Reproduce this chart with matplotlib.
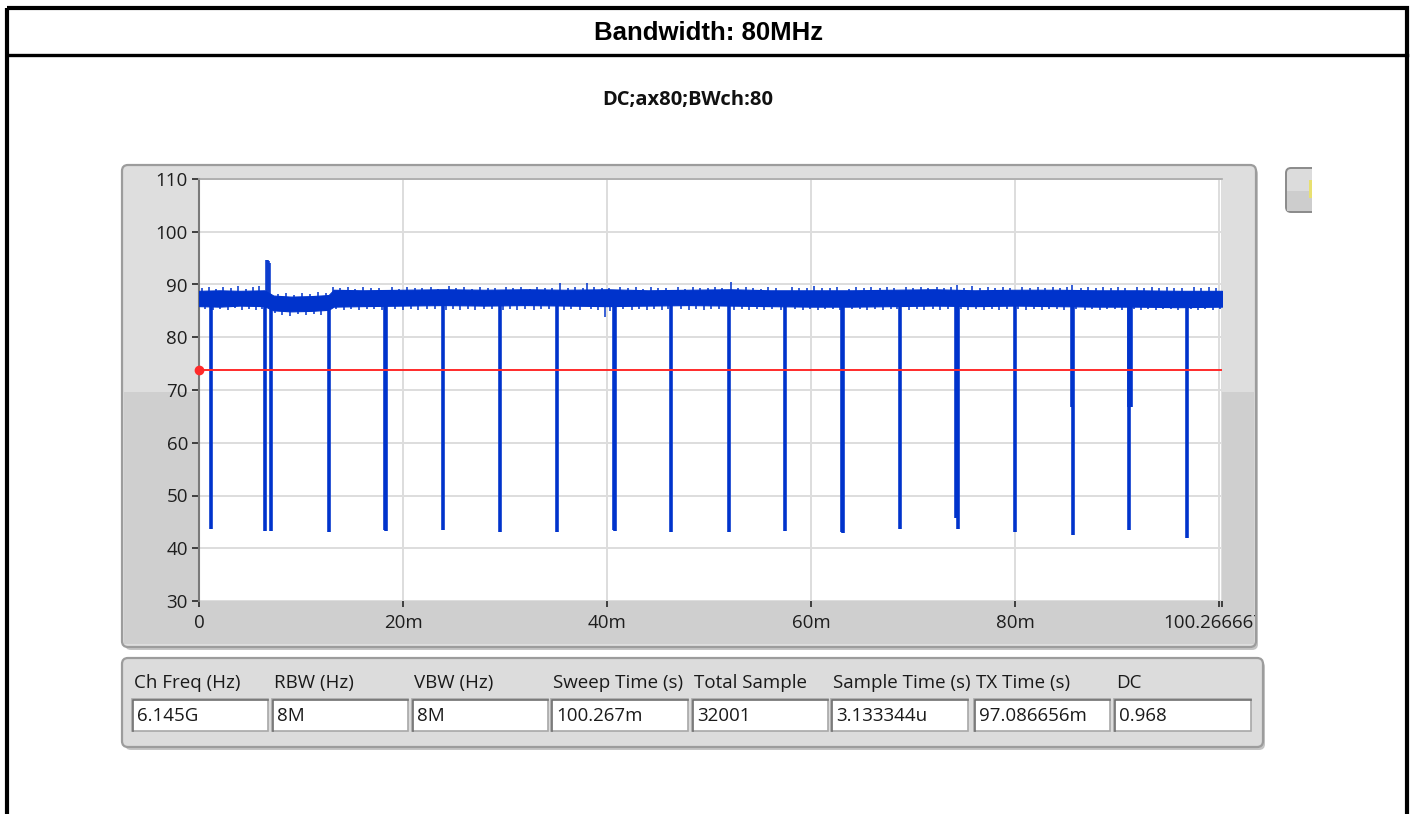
import matplotlib
matplotlib.use("Agg")
import matplotlib.pyplot as plt
from matplotlib.patches import FancyBboxPatch, Rectangle
from matplotlib.transforms import Bbox

plt.rcParams['font.family'] = ['Open Sans', 'DejaVu Sans']

W, H = 1413, 814

# sweep setup
sweep_ms = 100.266667
level_ticks = [30, 40, 50, 60, 70, 80, 90, 100, 110]
time_ticks = [0, 20, 40, 60, 80, 100, 100.266667]
time_labels = ["0", "20m", "40m", "60m", "80m", "", "100.266667m"]
threshold = 73.8

# envelope of the "on" level (ms, upper, lower)
env_t = [0, 2, 4, 6.4, 7.3, 9, 11, 12.7, 13.2, 16, 20, 24, 28, 32, 36, 40, 44, 48,
         52, 56, 60, 64, 68, 72, 76, 80, 84, 88, 92, 96, 100.266667]
env_hi = [88.8, 88.9, 88.8, 88.9, 87.9, 87.7, 87.8, 88.0, 89.0, 88.9, 89.0, 89.1, 89.0,
          89.1, 89.0, 89.1, 88.9, 89.0, 89.1, 88.9, 88.9, 88.9, 89.0, 89.1, 88.9, 89.0,
          89.0, 88.9, 88.9, 88.8, 88.8]
env_lo = [85.9, 85.8, 86.0, 85.9, 85.1, 84.9, 85.0, 85.2, 85.8, 85.9, 86.0, 86.1, 86.0,
          86.1, 86.0, 85.9, 86.0, 86.1, 86.0, 85.9, 85.8, 85.8, 85.9, 86.0, 85.9, 86.0,
          85.9, 85.8, 85.8, 85.7, 85.8]

# peaks above the level
peak_t = [0.3, 1.0, 1.7, 2.4, 3.1, 3.8, 4.6, 5.3, 5.9, 6.6, 6.7, 6.8, 6.9, 7.0,
          7.7, 8.5, 9.3, 10.1, 10.9, 11.7, 12.4, 13.1, 13.8, 14.6, 15.3, 16.1, 16.9,
          17.6, 18.9, 19.6, 20.4, 21.2, 21.9, 22.7, 23.4, 24.5, 25.2, 26.0, 26.8, 27.5,
          28.3, 29.0, 30.1, 30.8, 31.6, 32.4, 33.1, 33.9, 34.6, 35.4, 36.2, 36.9, 37.6,
          38.0, 38.7, 39.5, 40.2, 41.3, 42.0, 42.8, 43.5, 44.3, 45.0, 45.8, 46.9, 47.6,
          48.4, 49.1, 49.9, 50.6, 51.3, 52.1, 52.8, 53.6, 54.3, 55.1, 55.8, 56.6, 58.1,
          58.8, 59.6, 60.3, 61.1, 61.8, 62.5, 63.7, 64.4, 65.2, 65.9, 66.7, 67.4, 68.1,
          69.3, 70.0, 70.8, 71.5, 72.3, 73.0, 73.7, 74.3, 75.0, 75.8, 76.5, 77.3, 78.0,
          78.8, 79.5, 80.7, 81.4, 82.2, 82.9, 83.7, 84.4, 85.1, 85.6, 86.4, 87.1, 87.9,
          88.6, 89.4, 90.1, 90.8, 91.9, 92.6, 93.4, 94.1, 94.9, 95.6, 96.3, 97.5, 98.2,
          99.0, 99.7]
peak_v = [89.3, 89.6, 89.2, 89.5, 89.3, 89.7, 89.2, 89.5, 89.8, 94.7, 94.7, 94.6, 94.4,
          94.0, 88.2, 88.4, 88.1, 88.3, 88.2, 88.5, 88.3, 89.6, 89.3, 89.5, 89.2, 89.6,
          89.4, 89.3, 89.5, 89.2, 89.6, 89.4, 89.3, 89.5, 89.2, 89.7, 89.3, 89.5, 89.2,
          89.6, 89.4, 89.3, 89.5, 89.3, 89.6, 89.2, 89.5, 89.4, 89.3, 90.3, 89.4, 89.6,
          89.3, 90.3, 89.5, 89.3, 89.4, 89.6, 89.3, 89.5, 89.2, 89.6, 89.4, 89.3, 89.5,
          89.2, 89.6, 89.4, 89.3, 89.5, 89.4, 90.5, 89.3, 89.6, 89.4, 89.2, 89.5, 89.3,
          89.6, 89.4, 89.3, 89.7, 89.4, 89.3, 89.5, 89.2, 89.5, 89.4, 89.6, 89.3, 89.5,
          89.4, 89.6, 89.3, 89.5, 89.4, 89.6, 89.3, 89.5, 89.9, 89.4, 89.7, 89.3, 89.5,
          89.4, 89.6, 89.3, 89.6, 89.3, 89.5, 89.4, 89.6, 89.3, 89.5, 89.9, 89.4, 89.6,
          89.3, 89.5, 89.4, 89.6, 89.3, 89.5, 89.4, 89.6, 89.3, 89.5, 89.4, 89.3, 89.5,
          89.4, 89.6, 89.3]

# short drops below the level
drop_t = [0.6, 1.4, 2.1, 2.8, 3.5, 4.2, 4.9, 5.6, 6.2, 7.4, 8.1, 8.9, 9.7, 10.5, 11.3,
          12.0, 13.4, 14.2, 14.9, 15.7, 16.5, 17.2, 17.9, 19.2, 20.0, 20.8, 21.5, 22.3,
          23.1, 24.2, 24.9, 25.6, 26.4, 27.1, 27.9, 28.7, 29.8, 30.5, 31.2, 32.0, 32.8,
          33.5, 34.3, 35.8, 36.5, 37.3, 38.4, 39.1, 39.8, 40.3, 41.6, 42.4, 43.1, 43.9,
          44.6, 45.4, 46.0, 47.2, 48.0, 48.7, 49.5, 50.2, 51.0, 52.4, 53.2, 53.9, 54.7,
          55.4, 56.2, 57.0, 58.4, 59.2, 59.9, 60.7, 61.4, 62.1, 62.8, 64.0, 64.8, 65.5,
          66.3, 67.0, 67.8, 68.4, 69.6, 70.4, 71.1, 71.9, 72.6, 73.4, 74.7, 75.4, 76.2,
          76.9, 77.7, 78.4, 79.2, 80.3, 81.1, 81.8, 82.6, 83.3, 84.1, 84.8, 86.0, 86.8,
          87.5, 88.3, 89.0, 89.8, 90.5, 91.6, 92.3, 93.0, 93.8, 94.5, 95.3, 96.0, 97.2,
          97.9, 98.6, 99.4, 100.1]
drop_v = [85.3, 85.1, 85.4, 85.2, 85.5, 85.2, 85.4, 85.1, 85.3, 84.6, 84.3, 84.1, 84.4,
          84.2, 84.5, 84.3, 85.4, 85.2, 85.4, 85.1, 85.3, 85.4, 85.2, 85.3, 85.1, 85.4,
          85.2, 85.3, 85.4, 85.2, 85.3, 85.1, 85.4, 85.2, 85.3, 85.4, 85.2, 85.3, 85.1,
          85.4, 85.2, 85.3, 85.4, 85.2, 85.3, 85.1, 85.4, 85.2, 83.9, 84.9, 85.3, 85.2,
          85.4, 85.1, 85.3, 85.2, 85.4, 85.3, 85.1, 85.4, 85.2, 85.3, 85.4, 85.2, 85.3,
          85.1, 85.4, 85.2, 85.3, 85.2, 85.4, 85.1, 85.3, 85.2, 85.4, 85.3, 85.2, 85.3,
          85.4, 85.1, 85.3, 85.2, 85.4, 85.3, 85.2, 85.4, 85.1, 85.3, 85.2, 85.4, 85.3,
          85.2, 85.4, 85.1, 85.3, 85.2, 85.4, 85.3, 85.1, 85.4, 85.2, 85.3, 85.4, 85.2,
          85.3, 85.1, 85.4, 85.2, 85.3, 85.4, 85.2, 85.3, 85.1, 85.4, 85.2, 85.3, 85.4,
          85.2, 85.3, 85.1, 85.4, 85.2, 85.3]

# transmission gaps (ms, minimum level)
gap_t = [1.18, 6.5, 7.05, 12.75, 18.25, 18.35, 23.9, 29.5, 35.1, 40.65, 40.75, 46.3,
         51.9, 57.45, 63.05, 63.15, 68.7, 74.2, 74.4, 80.0, 85.55, 85.7, 91.2, 96.8]
gap_min = [43.6, 43.3, 43.2, 43.0, 43.5, 43.3, 43.4, 43.1, 43.1, 43.4, 43.2, 43.0,
           43.1, 43.3, 43.1, 42.9, 43.6, 45.7, 43.6, 43.0, 66.8, 42.5, 43.5, 42.0]
partial_t = [91.15, 91.3]
partial_min = [66.8, 66.8]

info_names = ["Ch Freq (Hz)", "RBW (Hz)", "VBW (Hz)", "Sweep Time (s)", "Total Sample",
              "Sample Time (s)", "TX Time (s)", "DC"]
info_values = ["6.145G", "8M", "8M", "100.267m", "32001", "3.133344u", "97.086656m", "0.968"]
info_x = [132, 272, 412, 551, 692, 831, 974, 1114]
info_w = [136, 136, 136, 137, 136, 137, 136, 137]

trace = '#0033cc'
red = '#ff2a2a'

fig = plt.figure(figsize=(W / 100, H / 100), dpi=100)
fig.patch.set_facecolor('white')

# pixel-space canvas for the panel chrome
bg = fig.add_axes([0, 0, 1, 1])
bg.set_xlim(0, W)
bg.set_ylim(H, 0)
bg.axis('off')

# outer frame and header row
bg.add_patch(Rectangle((7, 8), 1400, 900, fill=False, ec='black', lw=3))
bg.plot([7, 1407], [55, 55], color='black', lw=2.4)
bg.text(708, 33, "Bandwidth: 80MHz", ha='center', va='center', fontsize=18.5,
        fontweight='bold', family=['Liberation Sans', 'DejaVu Sans'])
bg.text(688, 100, "DC;ax80;BWch:80", ha='center', va='center', fontsize=14.5,
        fontweight='bold', color='#111111')

# graph panel
bg.add_patch(FancyBboxPatch((125, 168), 1133, 482, boxstyle='round,pad=0,rounding_size=6',
                            fc='#c4c4c4', ec='none'))
bg.add_patch(FancyBboxPatch((122, 165), 1134, 482, boxstyle='round,pad=0,rounding_size=6',
                            fc='#dedede', ec='#9c9c9c', lw=1.6))
bg.add_patch(Rectangle((124, 392), 1130, 252, fc='#cfcfcf', ec='none'))

# partial button on the right
bg.add_patch(FancyBboxPatch((1286, 168), 60, 44, boxstyle='round,pad=0,rounding_size=5',
                            fc='#dcdcdc', ec='#8a8a8a', lw=1.4))
bg.add_patch(Rectangle((1287, 191), 40, 20, fc='#cdcdcd', ec='none'))
bg.add_patch(Rectangle((1309, 180), 3, 18, fc='#e8e070', ec='none'))
bg.add_patch(Rectangle((1312, 150), 90, 80, fc='white', ec='none'))

# info panel
bg.add_patch(FancyBboxPatch((125, 661), 1140, 89, boxstyle='round,pad=0,rounding_size=6',
                            fc='#c4c4c4', ec='none'))
bg.add_patch(FancyBboxPatch((122, 658), 1141, 89, boxstyle='round,pad=0,rounding_size=6',
                            fc='#dcdcdc', ec='#9c9c9c', lw=1.6))
for name, val, x0, w in zip(info_names, info_values, info_x, info_w):
    bg.text(x0 + 2, 683, name, ha='left', va='center', fontsize=13.5, color='#1a1a1a')
    bg.add_patch(Rectangle((x0, 699), w, 32, fc='white', ec='#a8a8a8', lw=1.2))
    bg.plot([x0 + 1, x0 + 1, x0 + w], [731, 700, 700], color='#707070', lw=1.2)
    bg.text(x0 + 5, 716, val, ha='left', va='center', fontsize=13.5, color='#1a1a1a')

# plot area
x0, x1, y0, y1 = 199, 1222, 179, 601
ax = fig.add_axes([x0 / W, 1 - y1 / H, (x1 - x0) / W, (y1 - y0) / H])
ax.set_facecolor('white')
ax.set_xlim(0, sweep_ms)
ax.set_ylim(30, 110)

ax.fill_between(env_t, env_lo, env_hi, color=trace, lw=0.8, zorder=3)
ax.vlines(peak_t, 87, peak_v, color=trace, lw=1.1, zorder=3)
ax.vlines(drop_t, drop_v, 87, color=trace, lw=1.1, zorder=3)
ax.vlines(gap_t, gap_min, 87, color=trace, lw=2.6, zorder=3)
ax.vlines(partial_t, partial_min, 87, color=trace, lw=2.6, zorder=3)

ax.axhline(threshold, color=red, lw=1.4, zorder=4)
ax.plot([0], [threshold], 'o', color=red, ms=6, clip_on=False, zorder=5)

ax.set_yticks(level_ticks)
ax.set_xticks(time_ticks)
ax.set_xticklabels(time_labels)
ax.grid(True, color='#dddddd', lw=1.4, zorder=0)
ax.set_axisbelow(True)
ax.tick_params(axis='y', length=5, width=1.3, color='#333333', pad=3,
               labelsize=13.5, labelcolor='#1e1e1e')
ax.tick_params(axis='x', length=4, width=1.3, color='#333333', pad=5,
               labelsize=13.5, labelcolor='#1e1e1e')
for side in ['right', 'bottom']:
    ax.spines[side].set_visible(False)
ax.spines['left'].set_color('#7a7a7a')
ax.spines['left'].set_linewidth(1.5)
ax.spines['top'].set_color('#a8a8a8')
ax.spines['top'].set_linewidth(1.2)

# the end-of-sweep label runs past the panel edge
last = ax.get_xticklabels()[-1]
last.set_clip_on(True)
last.set_clip_box(Bbox.from_extents(0, 0, 1255, H))

fig.savefig('out.png', dpi=100)
